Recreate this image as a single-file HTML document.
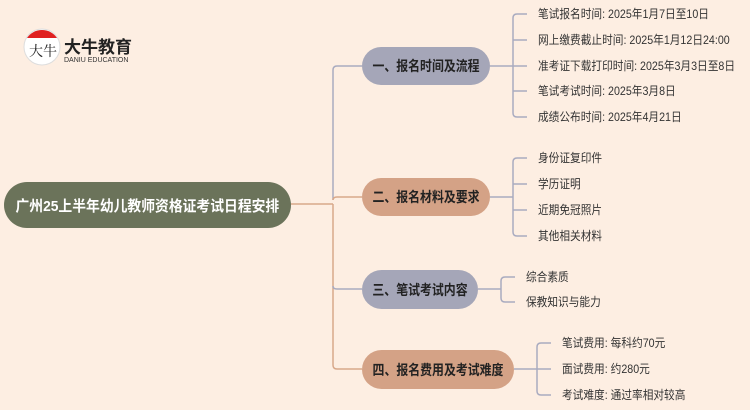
<!DOCTYPE html>
<html><head><meta charset="utf-8"><style>
body{margin:0;width:750px;height:410px;background:#fdeee2;position:relative;overflow:hidden;font-family:"Liberation Sans","Noto Sans CJK SC",sans-serif}
.t{position:absolute;font-size:12px;color:#333;line-height:14px;white-space:nowrap;transform:scaleX(0.89);transform-origin:left center}
.n{position:absolute;border-radius:20px;font-weight:bold;font-size:14px;color:#222;display:flex;align-items:center;justify-content:center;white-space:nowrap}
.n span{display:inline-block;transform:scaleX(0.85)}
</style></head><body>
<svg width="750" height="410" style="position:absolute;left:0;top:0">
<g fill="none" stroke-width="1.5">
<path d="M291 204 H333" stroke="#d8a88a"/>
<path d="M362 66 H337 Q333 66 333 70 V200" stroke="#a9abc0"/>
<path d="M333 200 Q333 197 337 197 H362 M333 204 V365 Q333 369 337 369 H362" stroke="#d8a88a"/>
<path d="M333 286 Q333 289 337 289 H362" stroke="#a9abc0"/>
<path d="M490 66 H513 M527 14 H517 Q513 14 513 18 V113 Q513 117 517 117 H527 M513 40 H527 M513 66 H527 M513 91 H527" stroke="#a9abc0"/>
<path d="M490 197 H513 M527 158 H517 Q513 158 513 162 V232 Q513 236 517 236 H527 M513 184 H527 M513 210 H527" stroke="#a9abc0"/>
<path d="M478 289 H501 M515 277 H505 Q501 277 501 281 V298 Q501 302 505 302 H515" stroke="#a9abc0"/>
<path d="M514 369 H537 M551 343 H541 Q537 343 537 347 V391 Q537 395 541 395 H551 M537 369 H551" stroke="#a9abc0"/>
</g>
<circle cx="42" cy="47" r="18" fill="#fff" stroke="#ddd"/>
<path d="M27 38 A18 18 0 0 1 57 38 Z" fill="#e02020"/>
<text x="29" y="56" font-size="14" font-family="Noto Serif CJK SC,serif" fill="#222">大牛</text>
</svg>
<div class="t" style="left:64px;top:38px;font-size:17px;font-weight:bold;line-height:20px;color:#222;transform:none">大牛教育</div>
<div class="t" style="left:64px;top:57px;font-size:7px;line-height:8px;color:#333;transform:none">DANIU EDUCATION</div>
<div class="n" style="left:4px;top:182px;width:287px;height:46px;background:#6b735a;color:#fff;border-radius:23px;font-size:15px"><span style="transform:scaleX(0.92)">广州25上半年幼儿教师资格证考试日程安排</span></div>
<div class="n" style="left:362px;top:47px;width:128px;height:38px;background:#a5a6b8"><span>一、报名时间及流程</span></div>
<div class="n" style="left:362px;top:178px;width:128px;height:38px;background:#d4a286"><span>二、报名材料及要求</span></div>
<div class="n" style="left:362px;top:270px;width:116px;height:39px;background:#a5a6b8"><span>三、笔试考试内容</span></div>
<div class="n" style="left:362px;top:350px;width:152px;height:39px;background:#d4a286"><span>四、报名费用及考试难度</span></div>
<div class="t" style="left:538px;top:7px">笔试报名时间: 2025年1月7日至10日</div>
<div class="t" style="left:538px;top:33px">网上缴费截止时间: 2025年1月12日24:00</div>
<div class="t" style="left:538px;top:59px">准考证下载打印时间: 2025年3月3日至8日</div>
<div class="t" style="left:538px;top:84px">笔试考试时间: 2025年3月8日</div>
<div class="t" style="left:538px;top:110px">成绩公布时间: 2025年4月21日</div>
<div class="t" style="left:538px;top:151px">身份证复印件</div>
<div class="t" style="left:538px;top:177px">学历证明</div>
<div class="t" style="left:538px;top:203px">近期免冠照片</div>
<div class="t" style="left:538px;top:229px">其他相关材料</div>
<div class="t" style="left:526px;top:270px">综合素质</div>
<div class="t" style="left:526px;top:295px">保教知识与能力</div>
<div class="t" style="left:562px;top:336px">笔试费用: 每科约70元</div>
<div class="t" style="left:562px;top:362px">面试费用: 约280元</div>
<div class="t" style="left:562px;top:388px">考试难度: 通过率相对较高</div>
</body></html>
